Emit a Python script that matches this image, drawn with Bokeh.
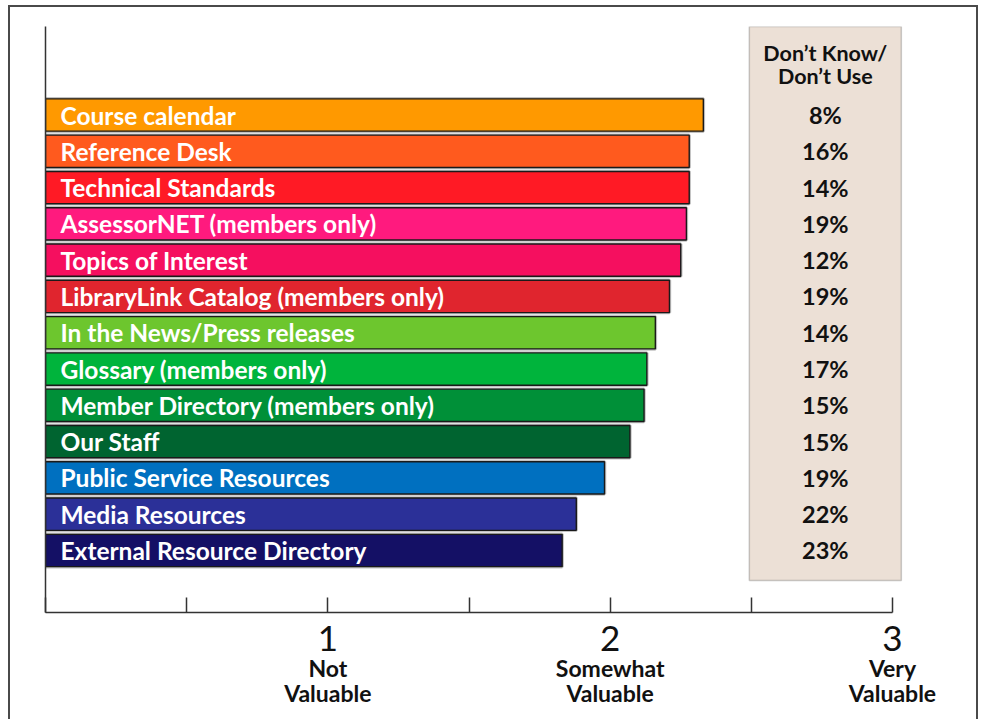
from bokeh.plotting import figure
from bokeh.models import Range1d, FixedTicker, LinearAxis, ColumnDataSource, BoxAnnotation
from bokeh.core.properties import value
from bokeh.embed import file_html
from bokeh.resources import INLINE

# ---------------- data ----------------
categories = [
    "Course calendar",
    "Reference Desk",
    "Technical Standards",
    "AssessorNET (members only)",
    "Topics of Interest",
    "LibraryLink Catalog (members only)",
    "In the News/Press releases",
    "Glossary (members only)",
    "Member Directory (members only)",
    "Our Staff",
    "Public Service Resources",
    "Media Resources",
    "External Resource Directory",
]
ratings = [2.33, 2.28, 2.28, 2.27, 2.25, 2.21, 2.16, 2.13, 2.12, 2.07, 1.98, 1.88, 1.83]
dont_know = [8, 16, 14, 19, 12, 19, 14, 17, 15, 15, 19, 22, 23]
bar_colors = [
    "#FF9900", "#FF5A1E", "#FF1A25", "#FF1A7E", "#F50F5F", "#E0252E",
    "#6DC62E", "#00B43C", "#009038", "#006430", "#0070C0", "#2B3098", "#141065",
]
tick_values = [0, 0.5, 1, 1.5, 2, 2.5, 3]
scale_numbers = {1: "1", 2: "2", 3: "3"}
scale_words = {1: "Not\nValuable", 2: "Somewhat\nValuable", 3: "Very\nValuable"}
side_header = "Don\u2019t Know/\nDon\u2019t Use"

# ---------------- layout ----------------
W, H = 984, 719
LEFT, TOP, BOTTOM = 45, 26, 107
frame_w = W - LEFT
px_per_unit = 847 / 3.0
x_end = frame_w / px_per_unit
row_px = 36.29
y_top = -(114.5 - TOP) / row_px
y_bottom = ((H - BOTTOM) - 114.5) / row_px

FONT = "Lato"
rows = list(range(len(categories)))

src = ColumnDataSource(dict(
    y=rows, cat=categories, val=ratings, color=bar_colors,
    pct=[f"{v}%" for v in dont_know],
))

p = figure(
    width=W, height=H,
    x_range=Range1d(0, x_end), y_range=Range1d(y_bottom, y_top),
    output_backend="svg", toolbar_location=None,
    x_axis_location=None, y_axis_location=None,
    min_border_left=LEFT, min_border_right=0, min_border_top=TOP, min_border_bottom=BOTTOM,
)
p.grid.visible = False
p.outline_line_color = None
p.background_fill_color = None
p.border_fill_color = None
# outer page frame (left, top, right edges)
p.styles = {"box-shadow": (
    "inset 8px 0 0 #ffffff, inset 0 5px 0 #ffffff, inset -6px 0 0 #ffffff, "
    "inset 10px 0 0 #4a4a4a, inset 0 7px 0 #4a4a4a, inset -8px 0 0 #4a4a4a"
)}

# side panel
box_left = 2.5 - 2 / px_per_unit
box_right = 2.5 + 150 / px_per_unit
panel = BoxAnnotation(left=box_left, right=box_right, top=None, bottom=len(categories) - 1 + 0.83,
                      fill_color="#ECE0D6", fill_alpha=1.0, line_color="#555555", line_width=1.5,
                      level="underlay")
p.add_layout(panel)

# bars
p.hbar(y="y", left=0, right="val", height=0.89, source=src,
       fill_color="color", line_color="#9a9a9a", line_width=3.5, line_alpha=0.6)
p.hbar(y="y", left=0, right="val", height=0.89, source=src,
       fill_color="color", line_color="#1a1a1a", line_width=1.4)

# bar labels
p.text(x=15 / px_per_unit, y="y", text="cat", source=src,
       text_font=value(FONT), text_font_style="bold", text_font_size="24.5px",
       text_color="white", text_align="left", text_baseline="middle")

# side panel texts
cx = (box_left + box_right) / 2
p.text(x=cx, y="y", text="pct", source=src,
       text_font=value(FONT), text_font_style="bold", text_font_size="23.5px",
       text_color="#111111", text_align="center", text_baseline="middle")
p.text(x=[cx], y=[-1.40], text=[side_header],
       text_font=value(FONT), text_font_style="bold", text_font_size="21.5px",
       text_color="#111111", text_align="center", text_baseline="middle",
       text_line_height=0.88)

# axes
yaxis = LinearAxis(ticker=FixedTicker(ticks=[]), axis_line_color="#333333", axis_line_width=1.5,
                   major_tick_line_color=None, minor_tick_line_color=None,
                   major_label_text_font_size="0px")
p.add_layout(yaxis, "left")

overrides1 = {t: scale_numbers.get(t, "") for t in tick_values}
xa = LinearAxis(ticker=FixedTicker(ticks=tick_values), bounds=(0, 3),
                major_tick_in=15, major_tick_out=0, minor_tick_line_color=None,
                axis_line_color="#333333", axis_line_width=1.5,
                major_tick_line_color="#333333", major_tick_line_width=1.5,
                major_label_overrides=overrides1,
                major_label_text_font=FONT, major_label_text_font_size="35px",
                major_label_text_color="#111111", major_label_standoff=13)
p.add_layout(xa, "below")

xa2 = LinearAxis(ticker=FixedTicker(ticks=[1, 2, 3]), bounds=(0, 3),
                 axis_line_color=None, major_tick_line_color=None, minor_tick_line_color=None,
                 major_tick_in=0, major_tick_out=0,
                 major_label_overrides=dict(scale_words),
                 major_label_text_font=FONT, major_label_text_font_style="bold",
                 major_label_text_font_size="23px", major_label_text_color="#111111",
                 major_label_text_line_height=0.9,
                 major_label_standoff=0)
p.add_layout(xa2, "below")

open("out.html", "w").write(file_html(p, INLINE))
